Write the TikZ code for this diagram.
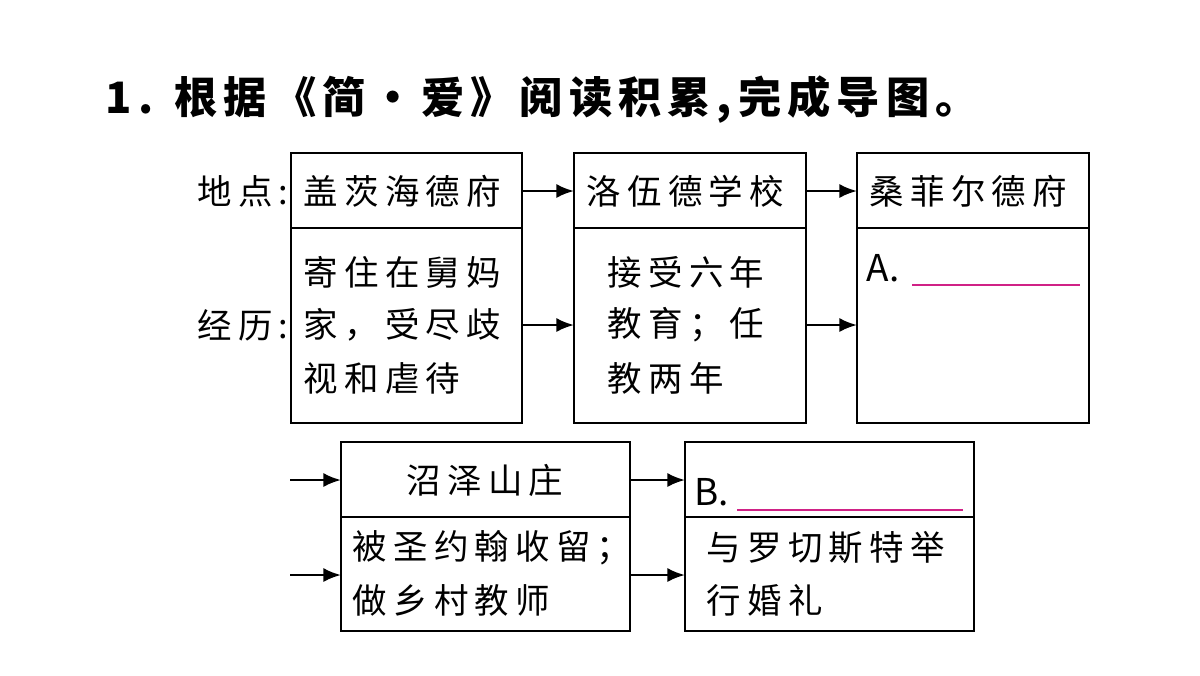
\documentclass[tikz,border=0pt]{standalone}
\usepackage{fontspec}
\setmainfont{Noto Sans CJK SC}
\newfontfamily\spc[LetterSpace=18]{Noto Sans CJK SC}
\newfontfamily\spt[LetterSpace=14]{Noto Sans CJK SC}
\usetikzlibrary{arrows.meta}
\begin{document}
\begin{tikzpicture}[x=0.01cm,y=-0.01cm,
  bx/.style={draw,line width=0.7pt},
  ar/.style={-{Latex[length=5pt,width=4pt]},line width=0.7pt},
  tx/.style={anchor=west,inner sep=0pt,font=\spc\fontsize{9.8}{12}\selectfont},
  ul/.style={draw=magenta!85!black,line width=0.8pt}]
\useasboundingbox (0,0) rectangle (1200,675);
\node[anchor=west,inner sep=0pt,font=\spt\fontsize{12.3}{14}\selectfont\bfseries] (title) at (105,100) {1. 根据《简・爱》阅读积累,完成导图。};
% row 1
\draw[bx] (291,153) rectangle (522,423); \draw[bx] (291,228) -- (522,228);
\draw[bx] (574,153) rectangle (806,423); \draw[bx] (574,228) -- (806,228);
\draw[bx] (857,153) rectangle (1089,423); \draw[bx] (857,228) -- (1089,228);
\coordinate (b1t) at (522,191); \coordinate (b2tl) at (574,191);
\coordinate (b2tr) at (806,191); \coordinate (b3t) at (857,191);
\coordinate (b1b) at (522,325); \coordinate (b2bl) at (574,325);
\coordinate (b2br) at (806,325); \coordinate (b3b) at (857,325);
\draw[ar] (b1t) -- (b2tl); \draw[ar] (b2tr) -- (b3t);
\draw[ar] (b1b) -- (b2bl); \draw[ar] (b2br) -- (b3b);
\node[tx,anchor=east] (l1) at (289,191) {地点:};
\node[tx,anchor=east] (l2) at (289,325) {经历:};
\node[tx] (p1) at (303,191) {盖茨海德府};
\node[tx] (p2) at (586,191) {洛伍德学校};
\node[tx] (p3) at (869,191) {桑菲尔德府};
\node[tx] (e11) at (303,272) {寄住在舅妈};
\node[tx] (e12) at (303,325) {家，受尽歧};
\node[tx] (e13) at (303,378) {视和虐待};
\node[tx] (e21) at (607,272) {接受六年};
\node[tx] (e22) at (607,325) {教育；任};
\node[tx] (e23) at (607,378) {教两年};
\node[tx,font=\fontsize{10.5}{12}\selectfont] (a) at (866,268) {A.};
\coordinate (ua1) at (912,285); \coordinate (ua2) at (1080,285);
\draw[ul] (ua1) -- (ua2);
% row 2
\draw[bx] (341,442) rectangle (630,631); \draw[bx] (341,517) -- (630,517);
\draw[bx] (685,442) rectangle (974,631); \draw[bx] (685,517) -- (974,517);
\coordinate (s1) at (290,480); \coordinate (s2) at (341,480);
\coordinate (s3) at (290,575); \coordinate (s4) at (341,575);
\coordinate (s5) at (630,480); \coordinate (s6) at (685,480);
\coordinate (s7) at (630,575); \coordinate (s8) at (685,575);
\draw[ar] (s1) -- (s2); \draw[ar] (s3) -- (s4);
\draw[ar] (s5) -- (s6); \draw[ar] (s7) -- (s8);
\node[tx,anchor=center] (p4) at (485,480) {沼泽山庄};
\node[tx] (e41) at (352,548) {被圣约翰收留；};
\node[tx] (e42) at (352,600) {做乡村教师};
\node[tx,font=\fontsize{10.5}{12}\selectfont] (b) at (694,492) {B.};
\coordinate (ub1) at (737,510); \coordinate (ub2) at (963,510);
\draw[ul] (ub1) -- (ub2);
\node[tx] (e51) at (706,548) {与罗切斯特举};
\node[tx] (e52) at (706,600) {行婚礼};
\end{tikzpicture}
\end{document}
